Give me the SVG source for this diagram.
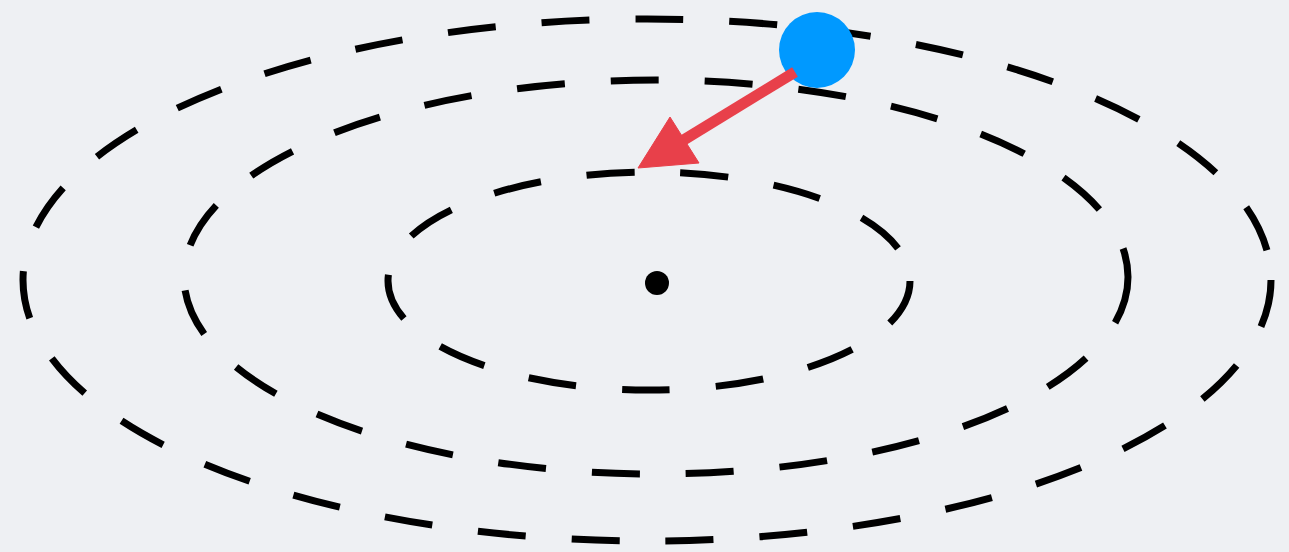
<svg xmlns="http://www.w3.org/2000/svg" width="1289" height="552" viewBox="0 0 1289 552">
<style>
.orbit{fill:none;stroke:#000;stroke-width:7;stroke-dasharray:48 46;}
.arrow{stroke:#E8404A;fill:#E8404A;}
</style>
<rect width="1289" height="552" fill="#EEF0F3"/>
<g id="orbits">
<ellipse id="outer" class="orbit" cx="647" cy="280" rx="624" ry="261"/>
<ellipse id="middle" class="orbit" cx="656" cy="277" rx="472" ry="197"/>
<ellipse id="inner" class="orbit" cx="649" cy="281" rx="261" ry="109"/>
</g>
<g id="center"><circle cx="657" cy="283" r="12" fill="#000"/></g>
<g id="body"><circle cx="817" cy="50" r="38" fill="#0099FF"/></g>
<g id="connectors">
<line class="arrow" x1="795" y1="72" x2="682" y2="141" stroke-width="11"/>
<polygon class="arrow" points="638,168 670,117 699,163" stroke="none"/>
</g>
</svg>
